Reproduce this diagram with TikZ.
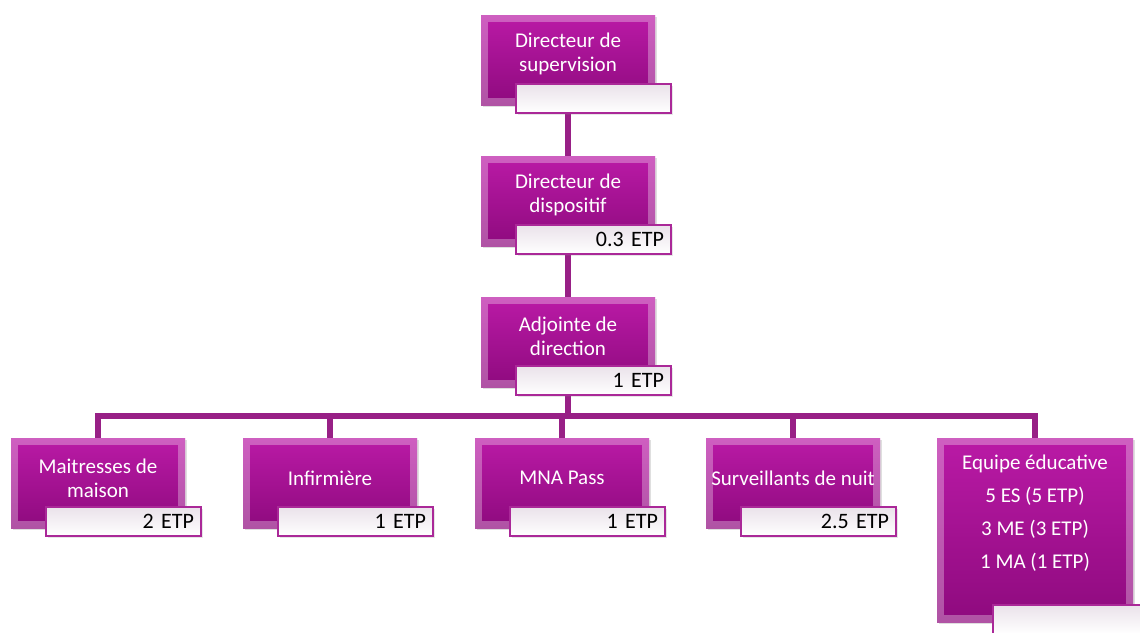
\documentclass[tikz,border=0pt]{standalone}
\usepackage{fontspec}
\setmainfont{Carlito}
\usetikzlibrary{calc, shadows}
\definecolor{posttop}{RGB}{186,26,166}
\definecolor{postbot}{RGB}{142,10,126}
\definecolor{postline}{RGB}{152,32,134}
\definecolor{etpedge}{RGB}{170,40,152}
\definecolor{etptop}{RGB}{234,226,234}

\begin{document}
\begin{tikzpicture}[x=1pt, y=-1pt,
  post/.style={top color=posttop, bottom color=postbot, minimum width=174pt,
    minimum height=90pt, inner sep=0pt,
    drop shadow={opacity=.25, shadow xshift=2pt, shadow yshift=-2pt},
    path picture={\draw[white, opacity=.3, line width=14pt]
      (path picture bounding box.north west) rectangle (path picture bounding box.south east);}},
  txt/.style={text=white, align=center, font=\fontsize{21}{24}\selectfont},
  etp/.style={draw=etpedge, line width=2pt, top color=etptop, bottom color=white,
    minimum width=155pt, minimum height=29pt, inner xsep=7pt, inner ysep=0pt,
    text width=141pt, align=right, font=\fontsize{22}{24}\selectfont,
    drop shadow={opacity=.2, shadow xshift=2pt, shadow yshift=-2pt}},
  link/.style={draw=postline, line width=5.5pt}]
\useasboundingbox (0,0) rectangle (1140,632);
% boxes
\node[post, label={[txt, yshift=6pt]center:{Directeur de\\supervision}}] (sup) at (568,60) {};
\node[post, label={[txt, yshift=6pt]center:{Directeur de\\dispositif}}] (dis) at (568,201) {};
\node[post, label={[txt, yshift=6pt]center:{Adjointe de\\direction}}] (adj) at (568,342) {};
\node[post, label={[txt, yshift=5pt]center:{Maitresses de\\maison}}] (mai) at (98,483) {};
\node[post, label={[txt, yshift=5pt]center:{Infirmière}}] (inf) at (330,483) {};
\node[post, label={[txt, yshift=5pt]center:{MNA Pass}}] (mna) at (562,483) {};
\node[post, label={[txt, yshift=5pt]center:{Surveillants de nuit}}] (sur) at (793,483) {};
\node[post, minimum width=196pt, minimum height=184pt,
  label={[txt, yshift=17pt, font=\fontsize{21}{33}\selectfont]center:{Equipe éducative\\5 ES (5 ETP)\\3 ME (3 ETP)\\1 MA (1 ETP)}}] (equ) at (1035,530) {};
% links
\coordinate (bus) at (568,416);
\draw[link] (sup) -- (dis);
\draw[link] (dis) -- (adj);
\draw[link] (adj) -- (bus);
\foreach \n in {mai,inf,mna,sur,equ}
  \draw[link] (bus) -| (\n);
% ETP tags
\node[etp] (supetp) at ([shift={(25.5,38.5)}]sup.center) {};
\node[etp] (disetp) at ([shift={(25.5,38.5)}]dis.center) {0.3 ETP};
\node[etp] (adjetp) at ([shift={(25.5,38.5)}]adj.center) {1 ETP};
\node[etp] (maietp) at ([shift={(25.5,38.5)}]mai.center) {2 ETP};
\node[etp] (infetp) at ([shift={(25.5,38.5)}]inf.center) {1 ETP};
\node[etp] (mnaetp) at ([shift={(25.5,38.5)}]mna.center) {1 ETP};
\node[etp] (suretp) at ([shift={(25.5,38.5)}]sur.center) {2.5 ETP};
\node[etp] (equetp) at ([shift={(35.5,89.5)}]equ.center) {};
\end{tikzpicture}
\end{document}
